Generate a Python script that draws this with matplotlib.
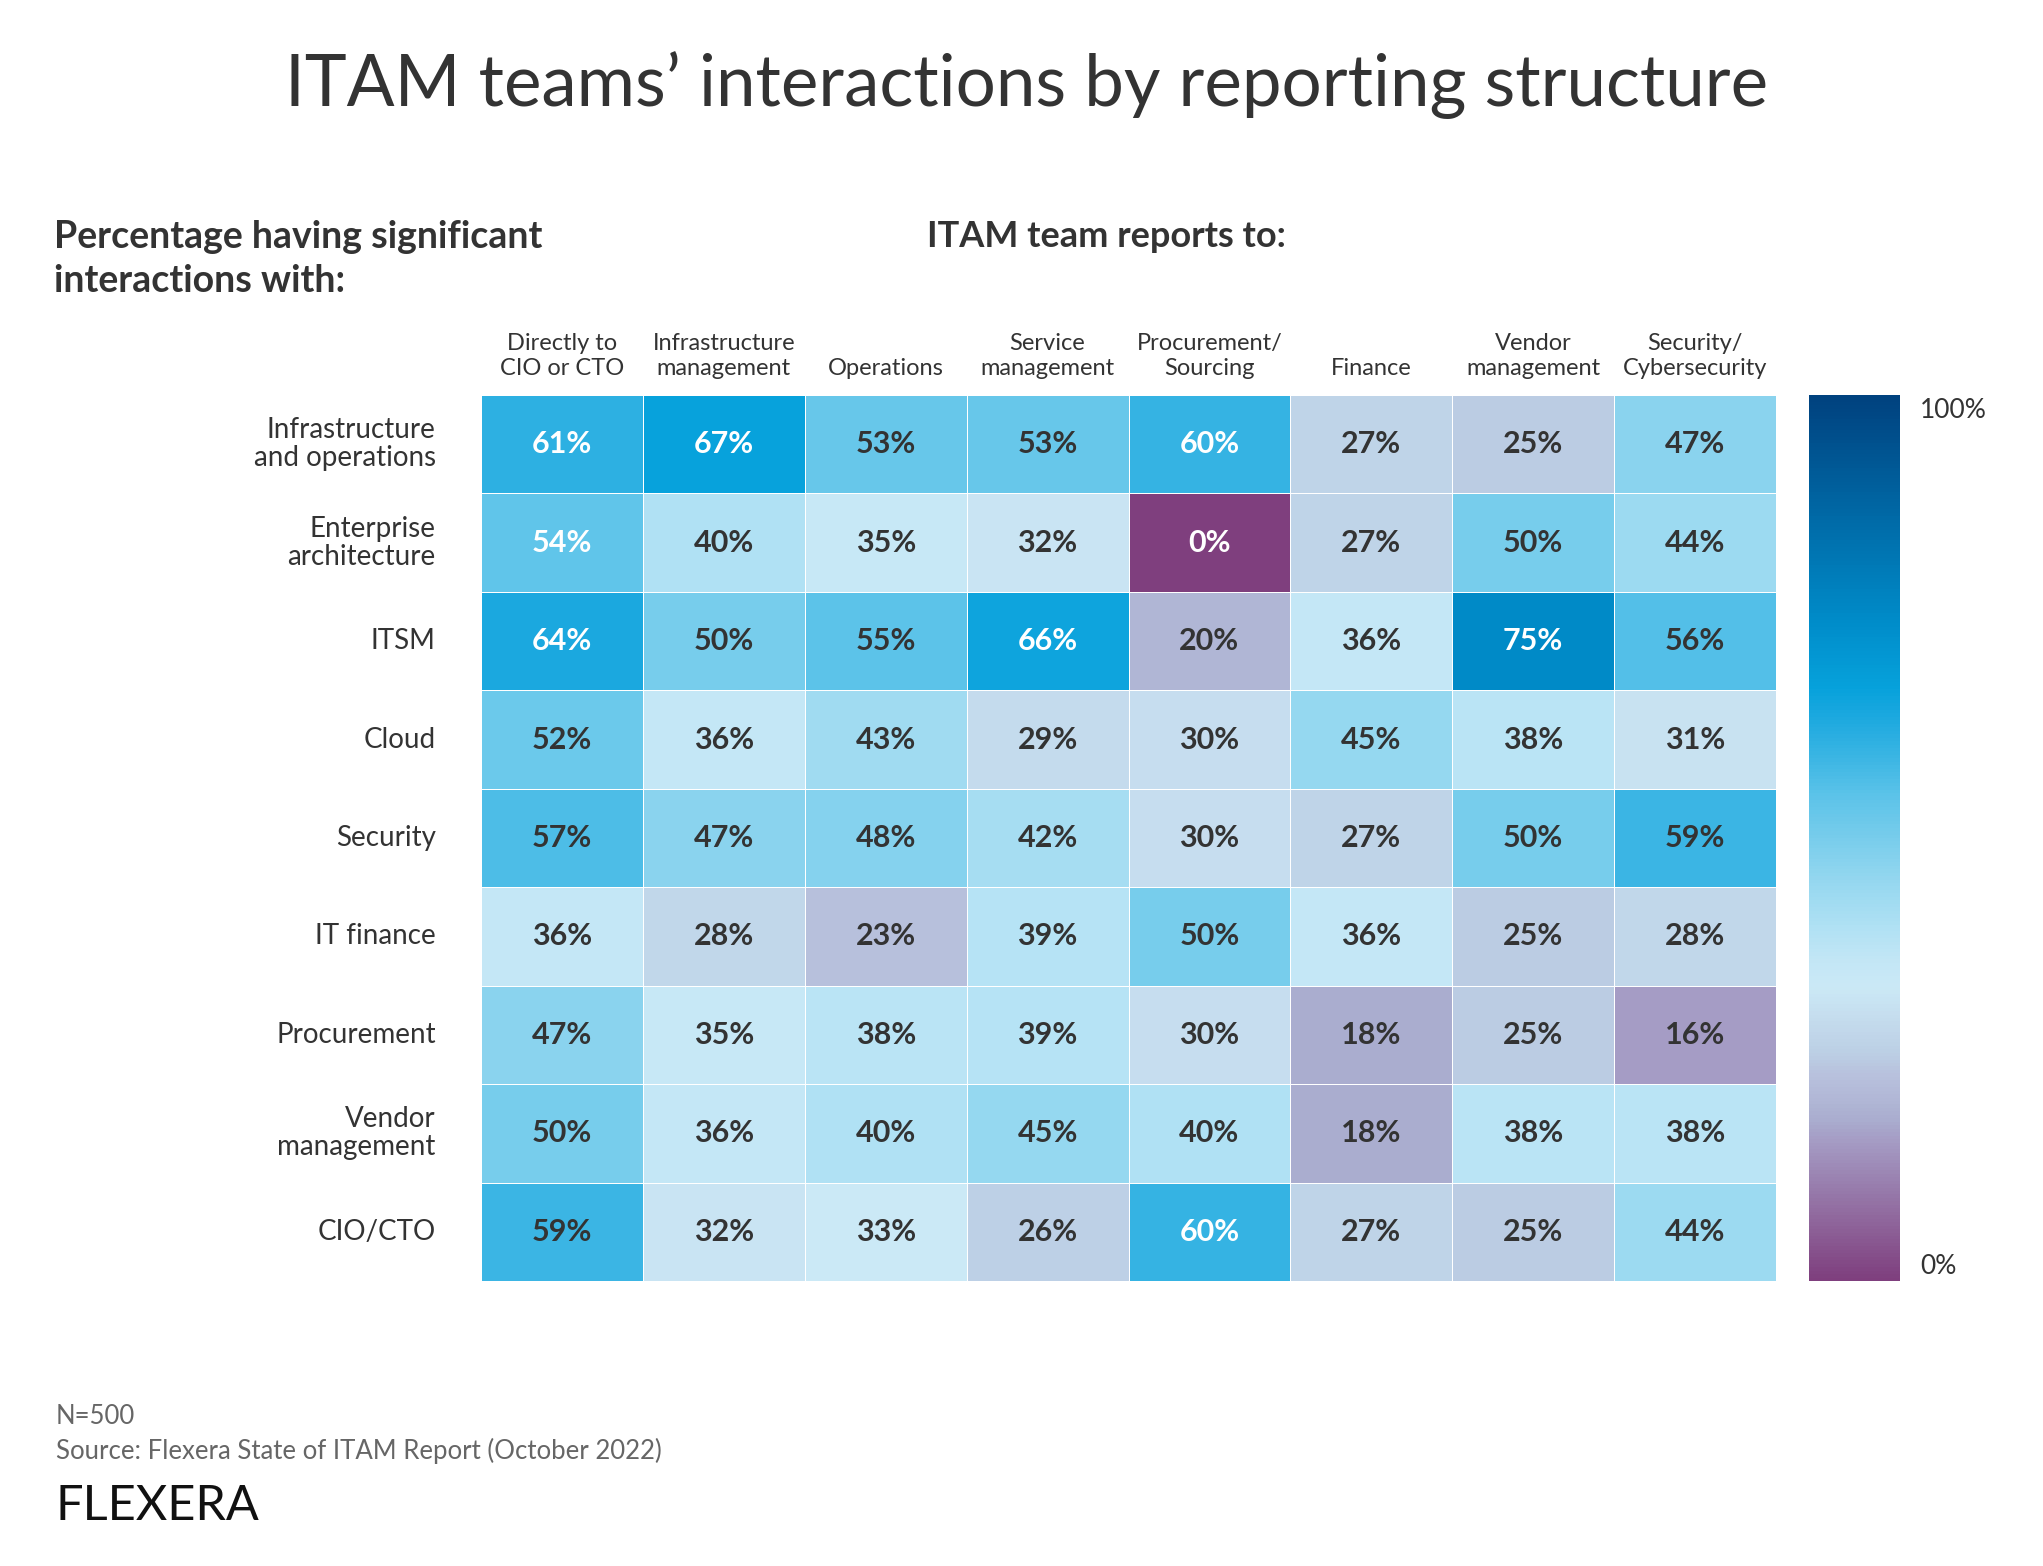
import numpy as np
import matplotlib.pyplot as plt
from matplotlib.colors import LinearSegmentedColormap

W, H = 2043, 1566

# data
reports_to = ["Directly to\nCIO or CTO", "Infrastructure\nmanagement", "Operations",
              "Service\nmanagement", "Procurement/\nSourcing", "Finance",
              "Vendor\nmanagement", "Security/\nCybersecurity"]
interacts_with = ["Infrastructure\nand operations", "Enterprise\narchitecture", "ITSM",
                  "Cloud", "Security", "IT finance", "Procurement",
                  "Vendor\nmanagement", "CIO/CTO"]
infra_ops = [61, 67, 53, 53, 60, 27, 25, 47]
enterprise_arch = [54, 40, 35, 32, 0, 27, 50, 44]
itsm = [64, 50, 55, 66, 20, 36, 75, 56]
cloud = [52, 36, 43, 29, 30, 45, 38, 31]
security = [57, 47, 48, 42, 30, 27, 50, 59]
it_finance = [36, 28, 23, 39, 50, 36, 25, 28]
procurement = [47, 35, 38, 39, 30, 18, 25, 16]
vendor_mgmt = [50, 36, 40, 45, 40, 18, 38, 38]
cio_cto = [59, 32, 33, 26, 60, 27, 25, 44]

# cells whose label is printed in white (row, col)
white_labels = [(0, 0), (0, 1), (0, 4), (1, 0), (1, 4), (2, 0), (2, 3), (2, 6), (8, 4)]

values = np.array([infra_ops, enterprise_arch, itsm, cloud, security,
                   it_finance, procurement, vendor_mgmt, cio_cto])

cmap = LinearSegmentedColormap.from_list("flexera", [
    (0.00, "#7f3f7e"), (0.16, "#a69ec6"), (0.18, "#aaadcf"), (0.20, "#b0b6d5"),
    (0.23, "#b8c1dd"), (0.26, "#bdd1e6"), (0.30, "#c6deef"), (0.33, "#cbe9f6"),
    (0.36, "#c4e7f6"), (0.40, "#b0e1f4"), (0.45, "#96d8f0"), (0.50, "#78cdec"),
    (0.55, "#5bc3e9"), (0.59, "#3cb6e4"), (0.64, "#1aa8df"), (0.67, "#07a2dc"),
    (0.75, "#008bc8"), (1.00, "#00427f")])

plt.rcParams["font.family"] = ["Lato", "DejaVu Sans"]

fig = plt.figure(figsize=(W / 100, H / 100), dpi=100)


def fx(px):
    return px / W


def fy(py):
    return 1 - py / H


# heatmap
ax = fig.add_axes([fx(481), fy(1281), fx(1776) - fx(481), fy(395) - fy(1281)])
ax.pcolormesh(values, cmap=cmap, vmin=0, vmax=100, edgecolors="white", linewidth=0.7)
ax.set_xlim(0, values.shape[1])
ax.set_ylim(values.shape[0], 0)
ax.axis("off")

for i in range(values.shape[0]):
    for j in range(values.shape[1]):
        color = "white" if (i, j) in white_labels else "#333333"
        ax.text(j + 0.5, i + 0.5, f"{values[i, j]}%", ha="center", va="center",
                fontsize=22, fontweight="bold", color=color)

for j, label in enumerate(reports_to):
    ax.text(j + 0.5, -0.16, label, ha="center", va="bottom", fontsize=17,
            color="#333333", linespacing=1.25)

for i, label in enumerate(interacts_with):
    ax.text(-0.28, i + 0.5, label, ha="right", va="center", fontsize=20,
            color="#333333", linespacing=1.1)

# colorbar
cax = fig.add_axes([fx(1809), fy(1281), fx(1900) - fx(1809), fy(395) - fy(1281)])
gradient = np.linspace(0, 100, 256).reshape(-1, 1)
cax.imshow(gradient, aspect="auto", cmap=cmap, origin="lower", extent=[0, 1, 0, 100])
cax.axis("off")
fig.text(fx(1920), fy(410), "100%", ha="left", va="center", fontsize=19, color="#333333")
fig.text(fx(1920), fy(1267), "0%", ha="left", va="center", fontsize=19, color="#333333")

# titles
fig.text(fx(1027), fy(85), "ITAM teams\u2019 interactions by reporting structure",
         ha="center", va="center", fontsize=51, color="#333333")
fig.text(fx(54), fy(220), "Percentage having significant\ninteractions with:",
         ha="left", va="top", fontsize=27, fontweight="bold", color="#333333",
         linespacing=1.35)
fig.text(fx(1106), fy(220), "ITAM team reports to:", ha="center", va="top",
         fontsize=26, fontweight="bold", color="#333333")

# footnotes
fig.text(fx(56), fy(1416), "N=500", ha="left", va="center", fontsize=18.5, color="#666666")
fig.text(fx(56), fy(1451), "Source: Flexera State of ITAM Report (October 2022)",
         ha="left", va="center", fontsize=18.5, color="#666666")
fig.text(fx(55), fy(1506), "FLEXERA", ha="left", va="center", fontsize=35,
         color="#111111")

fig.savefig("out.png", dpi=100, facecolor="white")
